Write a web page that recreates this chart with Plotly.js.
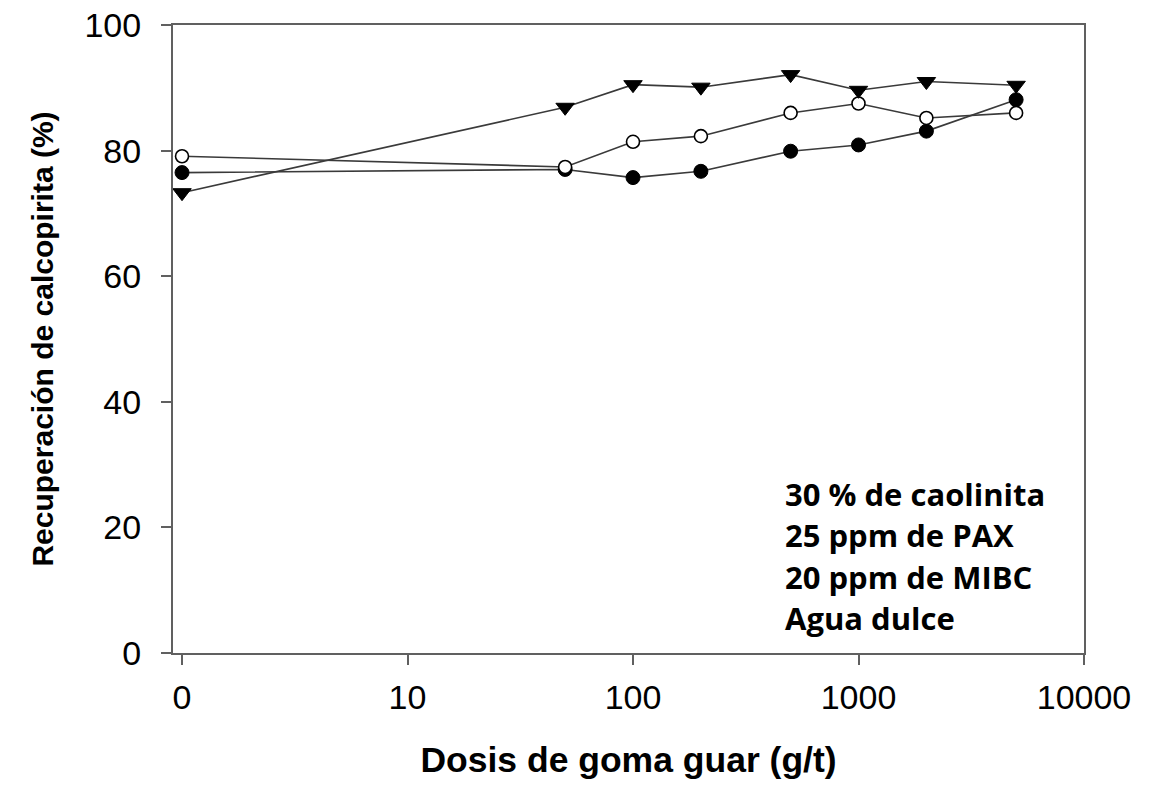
<!DOCTYPE html>
<html>
<head>
<meta charset="utf-8">
<script src="https://cdn.plot.ly/plotly-3.0.1.min.js"></script>
<style>
  html, body { margin: 0; padding: 0; background: #ffffff; }
  #chart { width: 1161px; height: 787px; }
</style>
</head>
<body>
<div id="chart"></div>
<script>
// Guar gum dose (g/t); the zero-dose test is placed at 1 on the log axis and labelled "0".
const dose = [1, 50, 100, 200, 500, 1000, 2000, 5000];

// Chalcopyrite recovery (%) for the three test series
const recFilled   = [76.5, 77.0, 75.7, 76.7, 79.9, 80.9, 83.1, 88.1];
const recOpen     = [79.1, 77.4, 81.4, 82.3, 86.0, 87.5, 85.2, 86.0];
const recTriangle = [73.3, 86.9, 90.5, 90.1, 92.1, 89.6, 91.0, 90.4];

// Axis ticks
const xTickVals = [1, 10, 100, 1000, 10000];
const xTickText = ['0', '10', '100', '1000', '10000'];
const yTickVals = [0, 20, 40, 60, 80, 100];

// Test conditions printed inside the plot
const conditions = ['30 % de caolinita', '25 ppm de PAX', '20 ppm de MIBC', 'Agua dulce'];

const lineStyle = { color: '#3a3a3a', width: 1.6 };

const traces = [
  {
    x: dose, y: recFilled, type: 'scatter', mode: 'lines+markers',
    line: lineStyle,
    marker: { symbol: 'circle', size: 14, color: '#000000', line: { color: '#000000', width: 1 } }
  },
  {
    x: dose, y: recOpen, type: 'scatter', mode: 'lines+markers',
    line: lineStyle,
    marker: { symbol: 'circle', size: 13, color: '#ffffff', line: { color: '#000000', width: 1.6 } }
  },
  {
    x: dose, y: recTriangle, type: 'scatter', mode: 'lines+markers',
    line: lineStyle,
    marker: { symbol: 'triangle-down', size: 16, color: '#000000', line: { color: '#000000', width: 1 } }
  }
];

// Vertical centres (px from top) of the four condition lines
const lineCentres = [494, 535, 577, 618];
const plotTop = 25, plotBottom = 653;
const annotations = conditions.map((txt, i) => ({
  text: '<b>' + txt + '</b>',
  xref: 'paper', yref: 'paper',
  x: (784 - 173) / 911, xanchor: 'left',
  y: (plotBottom - lineCentres[i]) / (plotBottom - plotTop), yanchor: 'middle',
  showarrow: false,
  borderpad: 0,
  font: { family: '"Open Sans", "Noto Sans", sans-serif', size: 31, color: '#000000' }
}));

const axisFont = { family: '"Liberation Sans", Arial, sans-serif', size: 34, color: '#000000' };

const layout = {
  width: 1161, height: 787,
  margin: { l: 173, r: 77, t: 25, b: 134 },
  paper_bgcolor: '#ffffff', plot_bgcolor: '#ffffff',
  showlegend: false,
  xaxis: {
    type: 'log',
    range: [-0.04, 4],
    tickvals: xTickVals, ticktext: xTickText,
    ticks: 'outside', ticklen: 10, tickwidth: 2, tickcolor: '#606060',
    ticklabelstandoff: 3,
    showline: true, linecolor: '#606060', linewidth: 2, mirror: true,
    showgrid: false, zeroline: false,
    tickfont: axisFont,
    title: {
      text: '<b>Dosis de goma guar (g/t)</b>',
      font: { family: '"Liberation Sans", Arial, sans-serif', size: 35.5, color: '#000000' },
      standoff: 32
    }
  },
  yaxis: {
    range: [0, 100],
    tickvals: yTickVals,
    ticks: 'outside', ticklen: 10, tickwidth: 2, tickcolor: '#606060',
    ticklabelstandoff: 13,
    showline: true, linecolor: '#606060', linewidth: 2, mirror: true,
    showgrid: false, zeroline: false,
    tickfont: axisFont,
    title: {
      text: '<b>Recuperación de calcopirita (%)</b>',
      font: { family: '"Liberation Sans", Arial, sans-serif', size: 30, color: '#000000' },
      standoff: 22
    }
  },
  annotations: annotations
};

Plotly.newPlot('chart', traces, layout, { displayModeBar: false, staticPlot: true });
</script>
</body>
</html>
